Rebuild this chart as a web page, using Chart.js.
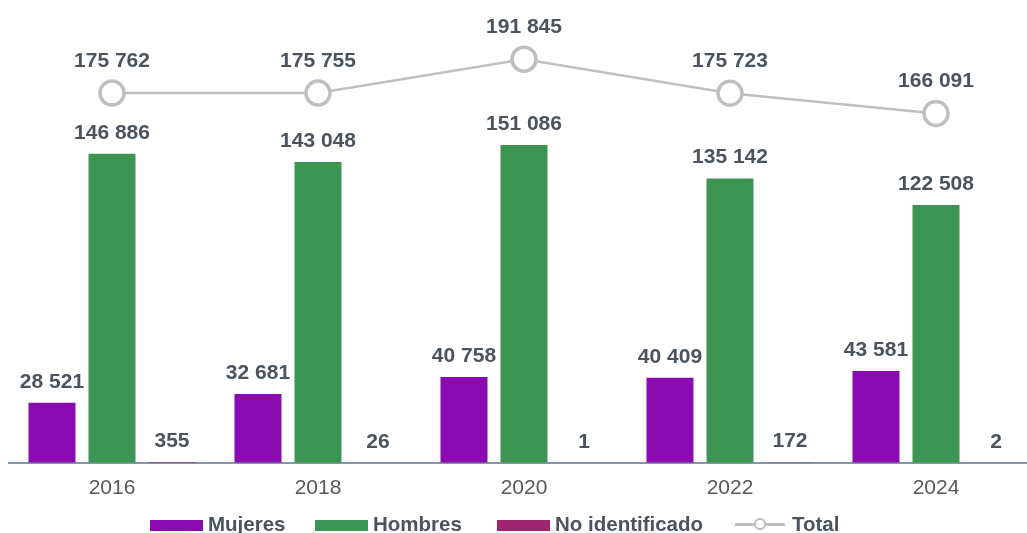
<!DOCTYPE html>
<html>
<head>
<meta charset="utf-8">
<script src="https://cdn.jsdelivr.net/npm/chart.js@4.4.1/dist/chart.umd.min.js"></script>
<style>
    html, body { margin: 0; padding: 0; background: #fff; overflow: hidden; }
    #wrap { position: relative; width: 1040px; height: 533px; }
    #chart { position: absolute; left: 0; top: 0; }
    #legend { position: absolute; left: 0; top: 0; width: 1040px; height: 533px; pointer-events: none;
        font-family: "Liberation Sans", Arial, sans-serif; font-weight: bold; font-size: 20.5px; color: #4b545c; }
    .item { position: absolute; top: 512px; height: 24px; line-height: 24px; white-space: nowrap; }
    .box { position: absolute; top: 8px; width: 53px; height: 11px; }
    .lbl { position: absolute; top: 0; }
</style>
</head>
<body>
<div id="wrap">
    <canvas id="chart" width="1040" height="533"></canvas>
    <div id="legend"></div>
</div>
<script>
const years = ['2016', '2018', '2020', '2022', '2024'];
const mujeres = [28521, 32681, 40758, 40409, 43581];
const hombres = [146886, 143048, 151086, 135142, 122508];
const noIdentificado = [355, 26, 1, 172, 2];
const total = [175762, 175755, 191845, 175723, 166091];

const colors = {
    mujeres: '#8a0bb2',
    hombres: '#3d9553',
    noId: '#a02571',
    total: '#bfbfbf',
    text: '#4b545c'
};

function fmt(v) {
    return String(v).replace(/\B(?=(\d{3})+(?!\d))/g, ' ');
}

// Value labels above bars and line points
const valueLabels = {
    id: 'valueLabels',
    afterDatasetsDraw(chart) {
        const ctx = chart.ctx;
        ctx.save();
        ctx.font = 'bold 21px "Liberation Sans", Arial, sans-serif';
        ctx.fillStyle = colors.text;
        ctx.textAlign = 'center';
        ctx.textBaseline = 'middle';
        chart.data.datasets.forEach((ds, i) => {
            const meta = chart.getDatasetMeta(i);
            const offset = ds.type === 'line' ? 32 : 21;
            meta.data.forEach((el, j) => {
                ctx.fillText(fmt(ds.data[j]), el.x, el.y - offset);
            });
        });
        ctx.restore();
    }
};

new Chart(document.getElementById('chart'), {
    type: 'bar',
    data: {
        labels: years,
        datasets: [
            {
                type: 'line',
                label: 'Total',
                data: total,
                borderColor: colors.total,
                borderWidth: 2.5,
                pointRadius: 12,
                pointBorderWidth: 3.5,
                pointBackgroundColor: '#fff',
                pointBorderColor: colors.total,
                order: 0
            },
            { label: 'Mujeres', data: mujeres, backgroundColor: colors.mujeres, order: 1 },
            { label: 'Hombres', data: hombres, backgroundColor: colors.hombres, order: 1 },
            { label: 'No identificado', data: noIdentificado, backgroundColor: colors.noId, order: 1 }
        ]
    },
    options: {
        responsive: false,
        animation: false,
        devicePixelRatio: 1,
        datasets: {
            bar: { barPercentage: 0.783, categoryPercentage: 0.874 }
        },
        layout: { autoPadding: false, padding: { left: 9, right: 1, top: 0, bottom: 19 } },
        plugins: {
            legend: { display: false },
            tooltip: { enabled: false }
        },
        scales: {
            x: {
                grid: { display: false, drawTicks: false },
                border: { display: true, color: '#8596a5', width: 2 },
                ticks: {
                    padding: 13,
                    color: '#595959',
                    font: { family: '"Liberation Sans", Arial, sans-serif', size: 21 }
                }
            },
            y: {
                display: false,
                min: 0,
                max: 220000
            }
        }
    },
    plugins: [valueLabels]
});

// HTML legend
const legendItems = [
    { text: 'Mujeres', color: colors.mujeres, left: 150 },
    { text: 'Hombres', color: colors.hombres, left: 315 },
    { text: 'No identificado', color: colors.noId, left: 497 },
    { text: 'Total', line: true, left: 735 }
];
const legend = document.getElementById('legend');
legendItems.forEach(item => {
    const div = document.createElement('div');
    div.className = 'item';
    div.style.left = item.left + 'px';
    if (item.line) {
        div.innerHTML =
            '<div style="position:absolute;left:0;top:11px;width:50px;height:2.5px;background:' + colors.total + '"></div>' +
            '<div style="position:absolute;left:19px;top:6px;width:8px;height:8px;border:2.5px solid ' + colors.total + ';border-radius:50%;background:#fff"></div>' +
            '<span class="lbl" style="left:57px">' + item.text + '</span>';
    } else {
        div.innerHTML =
            '<div class="box" style="left:0;background:' + item.color + '"></div>' +
            '<span class="lbl" style="left:58px">' + item.text + '</span>';
    }
    legend.appendChild(div);
});
</script>
</body>
</html>
